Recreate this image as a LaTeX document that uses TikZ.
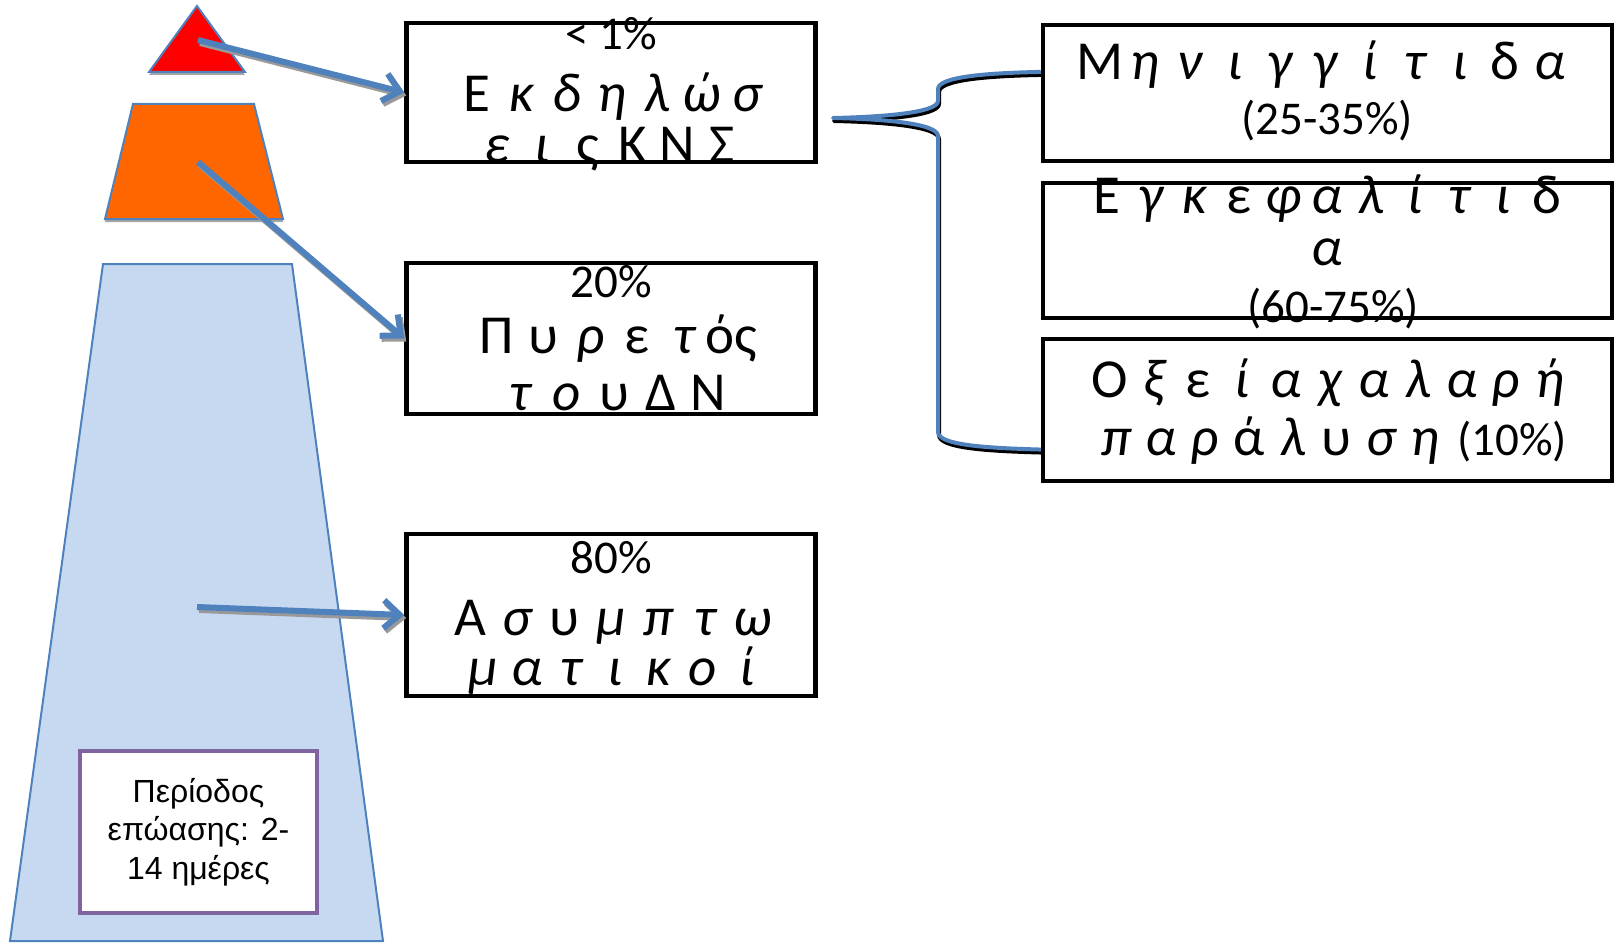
\documentclass[tikz,border=0pt]{standalone}
\usepackage{fontspec}
\setmainfont{Carlito}
\newfontfamily\arialf{Liberation Sans}
\usetikzlibrary{arrows.meta,calc}
\definecolor{ablue}{HTML}{4F81BD}
\definecolor{lblue}{HTML}{C6D9F1}
\definecolor{orng}{HTML}{FF6600}
\definecolor{purp}{HTML}{8064A2}
\newlength\gw
\newcommand\gU[1]{\makebox[\gw]{#1}}
\newcommand\gI[1]{\makebox[\gw]{\itshape #1}}
\tikzset{
 boxn/.style={draw=black, line width=4.5pt, fill=white, inner sep=0pt},
 big/.style={anchor=base, inner sep=0pt, font=\fontsize{55}{58}\selectfont},
 pct/.style={anchor=base, inner sep=0pt, font=\fontsize{47}{50}\selectfont},
 arr/.style={-{Straight Barb[length=16pt,width=28pt]}, line width=6pt, draw=ablue},
 arrsh/.style={arr, draw=black!40, transform canvas={shift={(2pt,-3pt)}}},
 shp/.style={draw=ablue, line width=2pt},
 shpsh/.style={fill=black!35, transform canvas={shift={(0pt,-3pt)}}},
 brace/.style={draw=ablue, line width=4pt, line join=round},
 bracesh/.style={draw=black, line width=4pt, line join=round, transform canvas={shift={(1pt,-3pt)}}},
}
\begin{document}
\begin{tikzpicture}[x=1pt,y=-1pt]
\useasboundingbox (0,0) rectangle (1616,944);
% pyramid shapes
\fill[shpsh] (197,6) -- (245,72) -- (149,72) -- cycle;
\filldraw[shp, fill=red] (197,6) -- (245,72) -- (149,72) -- cycle;
\fill[shpsh] (133,104) -- (254,104) -- (283,219) -- (105,219) -- cycle;
\filldraw[shp, fill=orng] (133,104) -- (254,104) -- (283,219) -- (105,219) -- cycle;
\filldraw[shp, fill=lblue] (103,264) -- (292,264) -- (383,941) -- (10,941) -- cycle;
% incubation box
\node[draw=purp, line width=4pt, fill=white, minimum width=237pt, minimum height=162pt, align=center, font=\arialf\fontsize{32}{38.5}\selectfont] (inc) at (198.5,832) {Περίοδος\\επώασης: 2-\\14 ημέρες};
% boxes
\node[boxn, minimum width=409pt, minimum height=139pt] (b1) at (611,92.5) {};
\node[boxn, minimum width=409pt, minimum height=151pt] (b2) at (611,338.5) {};
\node[boxn, minimum width=409pt, minimum height=162pt] (b3) at (611,615) {};
\node[boxn, minimum width=569pt, minimum height=136pt] (bA) at (1327.5,93) {};
\node[boxn, minimum width=569pt, minimum height=135pt] (bB) at (1327.5,250.5) {};
\node[boxn, minimum width=569pt, minimum height=142pt] (bC) at (1327.5,410) {};
% arrows
\coordinate (pTri) at (198,40);
\coordinate (pOr) at (198,162);
\coordinate (pBl) at (197,607);
\draw[arrsh] (pTri) -- (b1.west);
\draw[arr] (pTri) -- (b1.west);
\draw[arrsh] (pOr) -- (b2.west);
\draw[arr] (pOr) -- (b2.west);
\draw[arrsh] (pBl) -- (b3.west);
\draw[arr] (pBl) -- (b3.west);
% brace
\coordinate (bt) at (833,118);
\coordinate (aEnd) at ($(bA.north west)!0.35!(bA.south west)$);
\coordinate (cEnd) at ($(bC.north west)!0.77!(bC.south west)$);
\draw[bracesh] (aEnd) .. controls (985,73) and (938,77) .. (938,89) -- (938,101) .. controls (938,113) and (880,117) .. (bt) .. controls (880,119) and (938,123) .. (938,136) -- (938,432) .. controls (938,445) and (985,448) .. (cEnd);
\draw[brace] (aEnd) .. controls (985,73) and (938,77) .. (938,89) -- (938,101) .. controls (938,113) and (880,117) .. (bt) .. controls (880,119) and (938,123) .. (938,136) -- (938,432) .. controls (938,445) and (985,448) .. (cEnd);
% texts box 1
\node[pct] (t1a) at (611,50) {< 1\%};
\node[big] (t1b) at (612,112) {\setlength\gw{45pt}\gU{Ε}\gI{κ}\gI{δ}\gI{η}\gI{λ}\gI{ώ}\gI{σ}};
\node[big] (t1c) at (610,163) {\setlength\gw{45pt}\gI{ε}\gI{ι}\gU{ς}\gU{Κ}\gU{Ν}\gU{Σ}};
% box 2
\node[pct] (t2a) at (611,297) {20\%};
\node[big] (t2b) at (614,353) {\setlength\gw{47pt}\gU{Π}\gU{υ}\gI{ρ}\gU{ε}\gI{τ}\makebox[\gw]{ός}};
\node[big] (t2c) at (614,410) {\setlength\gw{47pt}\gI{τ}\gI{ο}\gU{υ}\gU{Δ}\gU{Ν}};
% box 3
\node[pct] (t3a) at (611,573) {80\%};
\node[big] (t3b) at (611.5,635) {\setlength\gw{47pt}\gU{Α}\gI{σ}\gU{υ}\gI{μ}\gI{π}\gI{τ}\gI{ω}};
\node[big] (t3c) at (615,685) {\setlength\gw{44pt}\gI{μ}\gI{α}\gI{τ}\gI{ι}\gI{κ}\gI{ο}\gI{ί}};
% box A
\node[big] (tAa) at (1325,80) {\setlength\gw{45pt}\gU{Μ}\gI{η}\gI{ν}\gI{ι}\gI{γ}\gI{γ}\gI{ί}\gI{τ}\gI{ι}\gU{δ}\gI{α}};
\node[pct] (tAb) at (1327,135) {(25-35\%)};
% box B
\node[big] (tBa) at (1327,213) {\setlength\gw{44pt}\gU{Ε}\gI{γ}\gI{κ}\gU{ε}\gI{φ}\gI{α}\gI{λ}\gI{ί}\gI{τ}\gI{ι}\gU{δ}};
\node[big] (tBb) at (1327,265) {\itshape α};
\node[pct] (tBc) at (1333,322) {(60-75\%)};
% box C
\node[big] (tCa) at (1330,397) {\setlength\gw{44pt}\gU{Ο}\gI{ξ}\gU{ε}\gI{ί}\gI{α}\gI{χ}\gI{α}\gI{λ}\gI{α}\gI{ρ}\gI{ή}};
\node[big] (tCb) at (1331,455) {\setlength\gw{44pt}\gI{π}\gI{α}\gI{ρ}\gU{ά}\gI{λ}\gU{υ}\gI{σ}\gI{η}{\fontsize{47}{50}\selectfont\ (10\%)}};
\end{tikzpicture}
\end{document}
